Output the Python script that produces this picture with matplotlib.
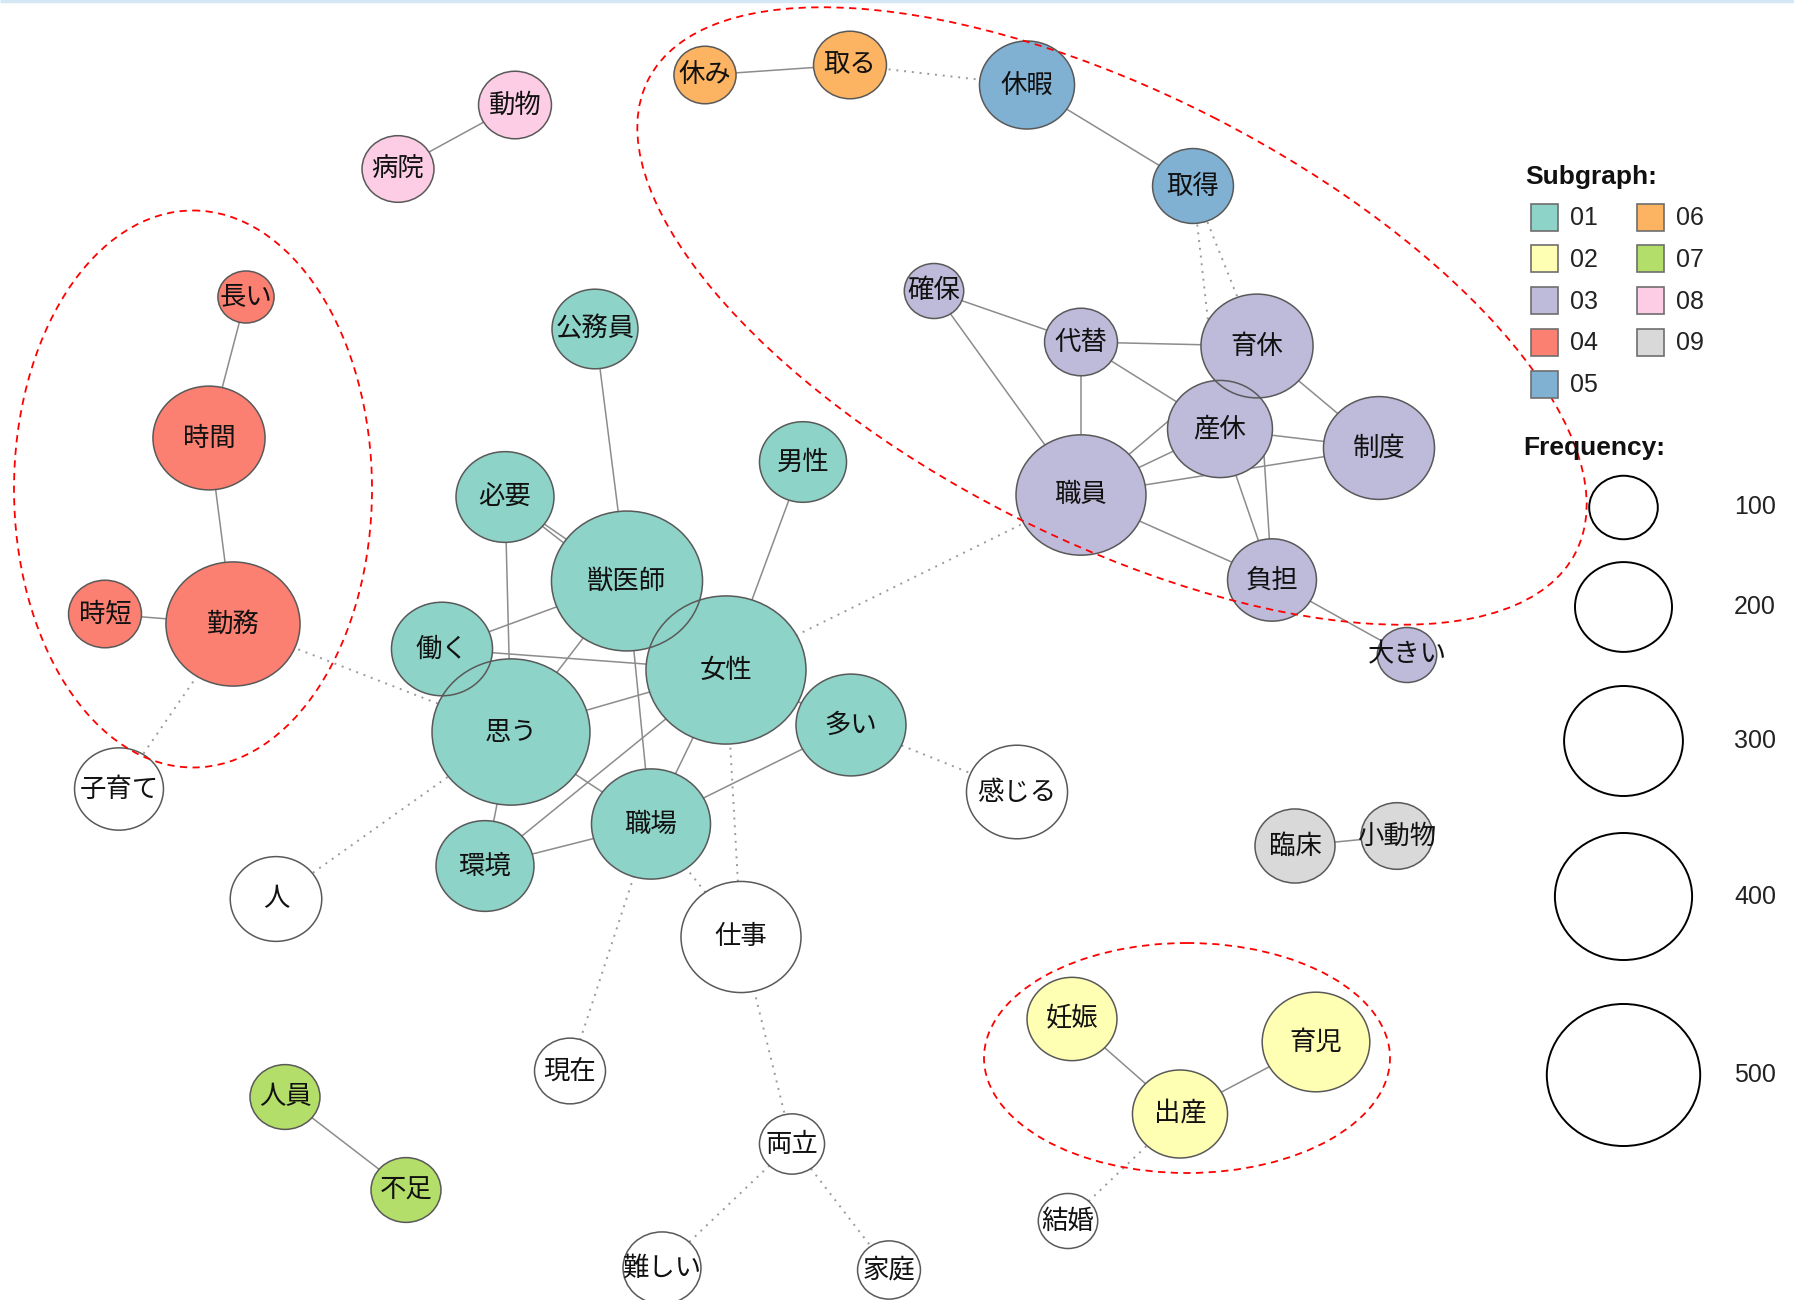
import matplotlib
matplotlib.use("Agg")
import matplotlib.pyplot as plt
from matplotlib.patches import Ellipse, Rectangle
import numpy as np

# ---------------- data ----------------
node_names = ["公務員", "男性", "必要", "獣医師", "働く", "女性", "思う", "多い", "職場", "環境",
              "確保", "代替", "育休", "産休", "制度", "職員", "負担", "大きい",
              "長い", "時間", "時短", "勤務",
              "休み", "取る", "休暇", "取得",
              "動物", "病院", "臨床", "小動物", "人員", "不足",
              "妊娠", "育児", "出産",
              "子育て", "人", "感じる", "仕事", "現在", "両立", "難しい", "家庭", "結婚"]
node_x = [595, 803, 505, 627, 442, 726, 511, 851, 651, 485,
          934, 1081, 1257, 1220, 1379, 1081, 1272, 1407,
          246, 209, 105, 233,
          705, 850, 1027, 1193,
          515, 398, 1295, 1397, 285, 406,
          1072, 1316, 1180,
          119, 276, 1017, 741, 570, 792, 662, 889, 1068]
node_y = [326, 459, 494, 578, 646, 667, 729, 722, 821, 863,
          288, 339, 343, 426, 445, 492, 577, 652,
          294, 435, 611, 621,
          72, 62, 82, 183,
          102, 166, 843, 833, 1094, 1187,
          1016, 1039, 1111,
          786, 896, 789, 934, 1068, 1141, 1265, 1267, 1218]
node_freq = [157, 161, 204, 485, 217, 544, 530, 257, 301, 204,
             75, 113, 267, 234, 262, 359, 168, 75,
             67, 267, 113, 382,
             82, 113, 192, 139,
             113, 110, 136, 110, 104, 104,
             172, 246, 192,
             168, 178, 217, 306, 107, 90, 129, 84, 75]
node_group = ["01"] * 10 + ["03"] * 8 + ["04"] * 4 + ["06", "06", "05", "05"] + \
             ["08", "08", "09", "09", "07", "07"] + ["02"] * 3 + [""] * 9

solid_edges = [("公務員", "獣医師"), ("男性", "女性"), ("必要", "獣医師"), ("必要", "女性"), ("必要", "思う"),
               ("働く", "獣医師"), ("働く", "女性"), ("獣医師", "思う"), ("獣医師", "職場"), ("思う", "女性"),
               ("思う", "職場"), ("思う", "環境"), ("女性", "職場"), ("女性", "環境"), ("環境", "職場"),
               ("職場", "多い"), ("女性", "多い"), ("獣医師", "女性"), ("働く", "思う"),
               ("確保", "代替"), ("確保", "職員"), ("代替", "育休"), ("代替", "産休"), ("代替", "職員"),
               ("育休", "制度"), ("育休", "負担"), ("産休", "制度"), ("職員", "制度"), ("職員", "産休"),
               ("職員", "育休"), ("職員", "負担"), ("産休", "負担"), ("負担", "大きい"), ("育休", "産休"),
               ("長い", "時間"), ("時間", "勤務"), ("時短", "勤務"), ("休み", "取る"), ("休暇", "取得"),
               ("動物", "病院"), ("臨床", "小動物"), ("人員", "不足"), ("妊娠", "出産"), ("出産", "育児")]
dotted_edges = [("勤務", "思う"), ("勤務", "子育て"), ("思う", "人"), ("女性", "職員"), ("女性", "仕事"),
                ("職場", "仕事"), ("多い", "感じる"), ("職場", "現在"), ("仕事", "両立"), ("両立", "難しい"),
                ("両立", "家庭"), ("出産", "結婚"), ("取る", "休暇"), ("取得", "育休"), ("取得", "産休")]

group_labels = ["01", "02", "03", "04", "05", "06", "07", "08", "09"]
group_colors = ["#8DD3C7", "#FFFFB3", "#BEBADA", "#FB8072", "#80B1D3",
                "#FDB462", "#B3DE69", "#FCCDE5", "#D9D9D9"]
freq_legend = [100, 200, 300, 400, 500]

# ---------------- drawing ----------------
W, H = 1794, 1300
Y_OFF = 3  # small global vertical offset of the canvas
fig = plt.figure(figsize=(W / 100, H / 100), dpi=100)
ax = fig.add_axes([0, 0, 1, 1])
ax.set_xlim(0, W)
ax.set_ylim(H - Y_OFF, -Y_OFF)
ax.axis("off")

JP = ["Noto Sans CJK JP", "DejaVu Sans"]
LAT = ["Liberation Sans", "DejaVu Sans"]

def node_w(f):
    return 68.6 * np.sqrt(f / 100.0)

ASPECT = 1.08
col = dict(zip(group_labels, group_colors))
pos = {n: (x, y) for n, x, y in zip(node_names, node_x, node_y)}

# top border line
ax.plot([0, W], [-Y_OFF + 1, -Y_OFF + 1], color="#d3e8f4", lw=2.5, zorder=0, solid_capstyle="butt")

for a, b in solid_edges:
    (x1, y1), (x2, y2) = pos[a], pos[b]
    ax.plot([x1, x2], [y1, y2], color="#8c8c8c", lw=1.1, zorder=1)
for a, b in dotted_edges:
    (x1, y1), (x2, y2) = pos[a], pos[b]
    ax.plot([x1, x2], [y1, y2], color="#9a9a9a", lw=1.4, ls=(0, (1, 3)), zorder=1)

for n, x, y, f, g in zip(node_names, node_x, node_y, node_freq, node_group):
    w = node_w(f)
    fc = col.get(g, "white")
    ax.add_patch(Ellipse((x, y), w, w / ASPECT, fc=fc, ec="none", zorder=2))
for n, x, y, f, g in zip(node_names, node_x, node_y, node_freq, node_group):
    w = node_w(f)
    ax.add_patch(Ellipse((x, y), w, w / ASPECT, fc="none", ec="#595959", lw=1.1, zorder=3))
    ax.text(x, y, n, ha="center", va="center", fontsize=19, family=JP, color="#111111", zorder=4)

# red dashed annotation ellipses
for (cx, cy), rw, rh, ang in [((193, 486), 358, 557, 0),
                              ((1112, 313), 1041, 446, 27),
                              ((1187, 1055), 406, 230, 0)]:
    ax.add_patch(Ellipse((cx, cy), rw, rh, angle=ang, fill=False, ec="#ff0000",
                         lw=1.3, ls=(0, (4, 3)), zorder=5))

# legend: subgraph
ax.text(1525, 174, "Subgraph:", fontsize=19, fontweight="bold", family=LAT,
        ha="left", va="center", color="#111111", zorder=6)
for i, (lab, c) in enumerate(zip(group_labels, group_colors)):
    colx = 0 if i < 5 else 1
    row = i if i < 5 else i - 5
    sx = 1531 + colx * 106
    sy = 214 + row * 41.8
    ax.add_patch(Rectangle((sx, sy - 13.5), 27, 27, fc=c, ec="#6e6e6e", lw=1.2, zorder=6))
    ax.text(sx + 39, sy + 1, lab, fontsize=18, family=LAT, ha="left", va="center",
            color="#222222", zorder=6)

# legend: frequency
ax.text(1523, 445, "Frequency:", fontsize=19, fontweight="bold", family=LAT,
        ha="left", va="center", color="#111111", zorder=6)
leg_y = [504.5, 604, 738, 893.5, 1072]
for v, ly in zip(freq_legend, leg_y):
    w = node_w(v)
    ax.add_patch(Ellipse((1623.5, ly), w, w / ASPECT, fc="white", ec="black", lw=1.4, zorder=6))
    ax.text(1776, ly, str(v), fontsize=18, family=LAT, ha="right", va="center",
            color="#222222", zorder=6)

fig.savefig("out.png", dpi=100, facecolor="white")
